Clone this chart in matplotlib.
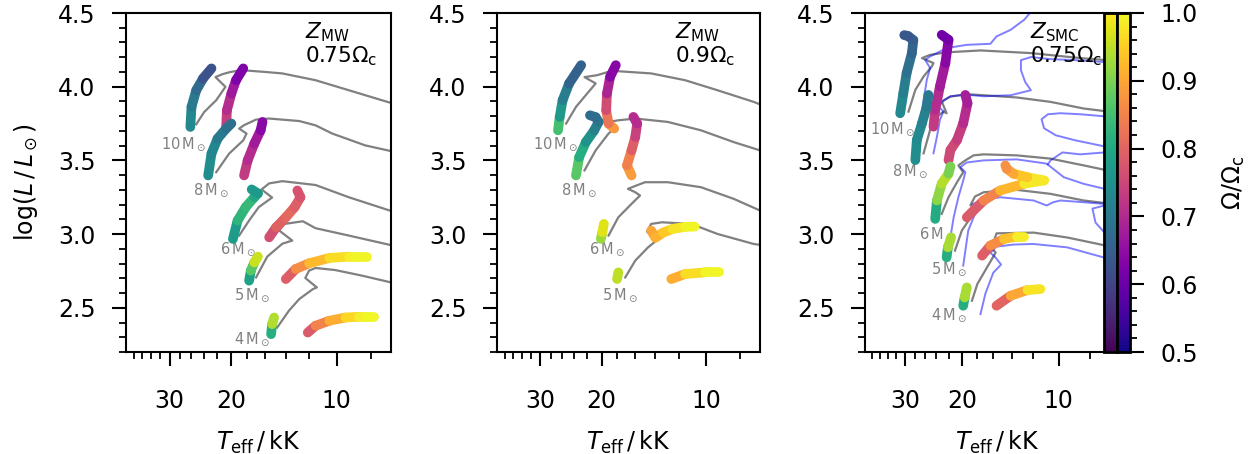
import numpy as np
import matplotlib
matplotlib.use("Agg")
import matplotlib as mpl
import matplotlib.pyplot as plt
from matplotlib.collections import LineCollection
from matplotlib.ticker import FixedLocator, MultipleLocator, NullFormatter, FuncFormatter

# ---- data: each coloured track = [Teff (kK), log L, Omega/Omega_c] ----
# panel 1: Z_MW, 0.75 Omega_c
p1_m10_pole = [[26.2, 26.0, 25.2, 24.1, 22.8], [3.727, 3.863, 3.976, 4.056, 4.124], [0.75, 0.72, 0.69, 0.65, 0.60]]
p1_m10_eq = [[20.7, 20.6, 20.0, 19.4, 18.5], [3.722, 3.840, 3.954, 4.044, 4.124], [0.75, 0.72, 0.69, 0.65, 0.60]]
p1_m10_grey = [[25.2, 23.9, 22.1, 20.8, 22.2, 21.2, 20.2, 19.0, 18.2, 16.0, 14.3, 11.5, 9.24, 7.43, 7.0],
               [3.745, 3.829, 3.908, 3.999, 4.065, 4.085, 4.099, 4.11, 4.11, 4.10, 4.09, 4.044, 3.976, 3.908, 3.89]]
p1_m8_pole = [[23.3, 22.8, 21.9, 20.7, 20.0], [3.398, 3.546, 3.648, 3.716, 3.75], [0.75, 0.74, 0.72, 0.69, 0.67]]
p1_m8_eq = [[18.4, 17.97, 17.2, 16.5, 16.3], [3.398, 3.5, 3.614, 3.704, 3.761], [0.74, 0.72, 0.69, 0.66, 0.62]]
p1_m8_grey = [[22.1, 20.3, 18.5, 18.1, 19.0, 18.4, 17.0, 15.6, 12.8, 11.5, 10.3, 8.3, 7.0],
              [3.420, 3.546, 3.636, 3.682, 3.716, 3.739, 3.777, 3.784, 3.767, 3.738, 3.682, 3.602, 3.563]]
p1_m6_pole = [[19.8, 19.2, 18.2, 17.2, 16.8, 17.5], [2.967, 3.092, 3.183, 3.250, 3.276, 3.303], [0.75, 0.80, 0.85, 0.82, 0.78, 0.76]]
p1_m6_eq = [[15.6, 14.9, 13.98, 13.2, 12.7, 12.96], [2.978, 3.046, 3.114, 3.182, 3.25, 3.296], [0.75, 0.78, 0.81, 0.80, 0.78, 0.76]]
p1_m6_grey = [[19.0, 17.8, 16.7, 15.3, 16.4, 15.6, 14.3, 11.5, 9.24, 7.0],
              [2.990, 3.092, 3.183, 3.248, 3.303, 3.344, 3.359, 3.333, 3.25, 3.157]]
p1_m5_pole = [[17.8, 17.6, 17.2, 16.8], [2.684, 2.752, 2.808, 2.847], [0.75, 0.82, 0.92, 1.0]]
p1_m5_eq = [[13.98, 13.1, 12.0, 10.5, 9.24, 8.85, 8.2], [2.695, 2.763, 2.802, 2.838, 2.847, 2.847, 2.847],
            [0.75, 0.83, 0.9, 0.95, 0.98, 0.99, 1.0]]
p1_m5_grey = [[17.0, 15.8, 14.3, 13.4, 14.6, 14.1, 12.5, 11.5, 9.24, 7.0],
              [2.706, 2.847, 2.935, 2.956, 3.024, 3.069, 3.087, 3.04, 2.99, 2.925]]
p1_m4_pole = [[15.4, 15.3, 15.1], [2.321, 2.389, 2.434], [0.75, 0.88, 1.0]]
p1_m4_eq = [[12.1, 11.5, 10.5, 9.44, 8.65, 8.2, 7.85], [2.332, 2.378, 2.412, 2.434, 2.439, 2.439, 2.439],
            [0.75, 0.82, 0.88, 0.94, 0.98, 0.995, 1.0]]
p1_m4_grey = [[14.8, 13.7, 12.8, 11.7, 11.4, 12.3, 12.0, 11.5, 10.1, 8.47, 7.0],
              [2.366, 2.480, 2.559, 2.627, 2.638, 2.702, 2.752, 2.770, 2.756, 2.718, 2.672]]

# panel 2: Z_MW, 0.9 Omega_c
p2_m10_pole = [[26.7, 26.4, 25.9, 24.8, 22.9], [3.704, 3.795, 3.908, 4.022, 4.146], [0.90, 0.80, 0.74, 0.68, 0.63]]
p2_m10_eq = [[18.4, 19.1, 19.4, 19.3, 18.9, 18.2], [3.716, 3.750, 3.840, 3.954, 4.067, 4.146], [0.90, 0.86, 0.80, 0.72, 0.66, 0.61]]
p2_m10_grey = [[25.3, 23.7, 22.0, 20.8, 22.4, 20.6, 19.1, 17.9, 14.4, 11.5, 9.28, 7.3, 7.0],
               [3.750, 3.863, 3.954, 4.022, 4.065, 4.078, 4.101, 4.105, 4.090, 4.044, 3.976, 3.897, 3.88]]
p2_m8_pole = [[23.7, 23.2, 22.2, 21.0, 20.4, 20.8, 21.6], [3.398, 3.522, 3.624, 3.704, 3.761, 3.793, 3.806],
              [0.90, 0.84, 0.78, 0.73, 0.70, 0.68, 0.67]]
p2_m8_eq = [[16.4, 16.9, 16.4, 16.0, 15.8, 16.2], [3.398, 3.466, 3.568, 3.659, 3.750, 3.795], [0.90, 0.87, 0.82, 0.76, 0.72, 0.69]]
p2_m8_grey = [[22.4, 20.8, 19.1, 18.2, 19.3, 17.9, 16.0, 12.9, 10.35, 8.33, 7.0],
              [3.432, 3.568, 3.682, 3.727, 3.759, 3.772, 3.784, 3.761, 3.704, 3.624, 3.568]]
p2_m6_pole = [[20.1, 19.9, 19.7], [2.967, 3.012, 3.069], [0.9, 0.95, 1.0]]
p2_m6_eq = [[14.4, 14.0, 13.3, 12.5, 11.5, 10.8], [3.024, 2.976, 3.010, 3.035, 3.049, 3.051], [0.9, 0.9, 0.93, 0.96, 0.99, 1.0]]
p2_m6_grey = [[19.1, 17.9, 16.4, 15.5, 16.0, 16.8, 15.0, 12.9, 10.35, 8.33, 7.0],
              [2.990, 3.114, 3.205, 3.262, 3.284, 3.307, 3.352, 3.352, 3.318, 3.239, 3.160]]
p2_m5_pole = [[18.05, 17.9], [2.695, 2.740], [0.9, 1.0]]
p2_m5_eq = [[12.6, 11.5, 10.1, 9.16], [2.695, 2.729, 2.740, 2.740], [0.88, 0.94, 0.99, 1.0]]
p2_m5_grey = [[17.1, 16.0, 14.7, 13.9, 14.8, 14.4, 13.4, 11.05, 9.28, 7.3, 7.0],
              [2.706, 2.820, 2.910, 2.956, 3.017, 3.069, 3.080, 3.069, 3.001, 2.933, 2.927]]

# panel 3: Z_SMC, 0.75 Omega_c
p3_m10_pole = [[31.1, 30.4, 29.7, 28.6, 28.3, 29.4, 30.2], [3.820, 3.956, 4.092, 4.228, 4.316, 4.344, 4.35],
               [0.75, 0.72, 0.70, 0.67, 0.65, 0.64, 0.63]]
p3_m10_eq = [[24.5, 24.2, 23.4, 22.5, 22.0, 23.1], [3.729, 3.842, 4.001, 4.160, 4.318, 4.352], [0.74, 0.72, 0.69, 0.66, 0.62, 0.60]]
p3_m10_grey = [[29.3, 27.9, 26.3, 24.8, 24.5, 26.6, 25.1, 22.3, 17.5, 12.2, 8.56, 7.26, 6.0],
               [3.831, 3.978, 4.069, 4.137, 4.16, 4.194, 4.216, 4.233, 4.246, 4.228, 4.194, 4.182, 4.17]]
p3_m8_pole = [[27.9, 27.6, 26.6, 25.7, 25.4], [3.502, 3.638, 3.752, 3.865, 3.944], [0.75, 0.74, 0.73, 0.71, 0.70]]
p3_m8_eq = [[22.0, 21.7, 20.7, 19.8, 19.2, 19.5], [3.502, 3.570, 3.638, 3.752, 3.888, 3.944], [0.75, 0.76, 0.75, 0.72, 0.69, 0.67]]
p3_m8_grey = [[26.3, 25.1, 23.9, 22.8, 22.3, 23.1, 21.7, 19.3, 17.1, 13.5, 10.6, 8.36, 6.0],
              [3.548, 3.706, 3.797, 3.831, 3.82, 3.90, 3.933, 3.949, 3.942, 3.927, 3.897, 3.852, 3.813]]
p3_m6_pole = [[24.2, 23.9, 23.1, 22.0, 21.7], [3.103, 3.228, 3.342, 3.410, 3.459], [0.75, 0.86, 0.97, 0.92, 0.88]]
p3_m6_eq = [[19.3, 17.1, 15.2, 12.8, 11.1, 12.5, 13.8, 14.5, 14.65],
            [3.114, 3.228, 3.296, 3.342, 3.364, 3.386, 3.409, 3.443, 3.466],
            [0.75, 0.82, 0.88, 0.96, 1.0, 0.96, 0.92, 0.88, 0.86]]
p3_m6_grey = [[23.1, 22.0, 20.7, 19.8, 20.5, 19.5, 18.4, 17.1, 13.5, 10.6, 8.36, 6.0],
              [3.137, 3.25, 3.352, 3.42, 3.466, 3.5, 3.534, 3.541, 3.534, 3.512, 3.466, 3.40]]
p3_m5_pole = [[22.3, 22.1, 21.6], [2.842, 2.910, 2.978], [0.75, 0.87, 1.0]]
p3_m5_eq = [[17.3, 16.3, 14.8, 13.5, 12.8], [2.854, 2.922, 2.967, 2.983, 2.983], [0.75, 0.83, 0.9, 0.97, 1.0]]
p3_m5_grey = [[21.0, 20.0, 18.6, 17.8, 18.8, 18.2, 17.1, 13.5, 10.6, 8.36, 6.0],
              [2.888, 3.024, 3.126, 3.162, 3.196, 3.255, 3.284, 3.30, 3.273, 3.228, 3.19]]
p3_m4_pole = [[19.8, 19.6, 19.3], [2.514, 2.570, 2.638], [0.75, 0.87, 1.0]]
p3_m4_eq = [[15.6, 14.1, 12.5, 11.4], [2.514, 2.582, 2.620, 2.627], [0.75, 0.85, 0.95, 1.0]]
p3_m4_grey = [[18.6, 17.9, 16.7, 15.7, 16.3, 15.8, 15.6, 11.96, 9.41, 7.24, 6.0],
              [2.548, 2.661, 2.774, 2.874, 2.915, 2.969, 3.005, 3.01, 2.977, 2.925, 2.907]]

# panel 3 comparison tracks (blue)
p3_blue_m10 = [[27.0, 26.3, 25.7, 25.1, 26.0, 25.1, 22.3, 19.3, 16.3, 15.6, 14.1, 12.8, 12.2, 11.8],
               [3.752, 3.910, 4.046, 4.126, 4.182, 4.205, 4.262, 4.284, 4.291, 4.341, 4.386, 4.454, 4.507, 4.554]]
p3_blue_m8 = [[24.5, 23.9, 23.4, 22.8, 23.7, 22.7, 21.7, 19.4, 17.1, 14.1, 12.2, 12.7, 13.1, 13.1, 12.2, 10.6, 8.87, 7.2],
              [3.548, 3.661, 3.774, 3.833, 3.867, 3.908, 3.935, 3.946, 3.935, 3.942, 3.976, 4.031, 4.112, 4.180, 4.201,
               4.187, 4.180, 4.167]]
p3_blue_m6 = [[21.7, 21.2, 20.5, 19.8, 19.5, 20.2, 19.3, 17.1, 13.5, 10.9, 9.64, 8.36, 7.2],
              [2.978, 3.114, 3.25, 3.364, 3.420, 3.454, 3.486, 3.5, 3.507, 3.478, 3.386, 3.341, 3.307]]
p3_blue_m5 = [[19.8, 19.5, 19.1, 18.2, 17.8, 18.6, 17.5, 15.2, 11.96, 10.9, 10.4, 9.88, 8.36, 7.2],
              [2.786, 2.888, 3.024, 3.137, 3.173, 3.201, 3.228, 3.25, 3.228, 3.194, 3.216, 3.228, 3.216, 3.205]]
p3_blue_m4 = [[17.5, 16.9, 15.97, 15.1, 15.7, 16.3, 15.6, 13.8, 12.0, 9.41, 7.2],
              [2.457, 2.595, 2.738, 2.793, 2.840, 2.874, 2.915, 2.929, 2.933, 2.910, 2.840]]
p3_blue_loop1 = [[7.2, 8.56, 9.88, 10.8, 11.3, 11.1, 10.2, 8.87, 7.2],
                 [3.799, 3.813, 3.820, 3.813, 3.779, 3.718, 3.670, 3.636, 3.595]]
p3_blue_loop2 = [[7.2, 8.56, 9.73, 10.6, 10.8], [3.554, 3.541, 3.554, 3.5, 3.473]]
p3_blue_loop3 = [[7.2, 7.85, 7.68, 7.2], [3.194, 3.173, 3.078, 3.010]]

masses = ['10', '8', '6', '5', '4']
# label anchors (right edge of text) per panel
p1_label_T = [23.6, 20.3, 17.0, 15.5, 15.5]
p1_label_L = [3.61, 3.30, 2.90, 2.59, 2.29]
p2_label_T = [23.3, 20.6, 17.1, 15.7]
p2_label_L = [3.61, 3.30, 2.90, 2.59]
p3_label_T = [27.9, 25.4, 21.0, 19.3, 19.3]
p3_label_L = [3.71, 3.43, 3.00, 2.76, 2.45]

panel_titles = [r'$Z_\mathrm{MW}$' + '\n' + r'$0.75\Omega_\mathrm{c}$',
                r'$Z_\mathrm{MW}$' + '\n' + r'$0.9\Omega_\mathrm{c}$',
                r'$Z_\mathrm{SMC}$' + '\n' + r'$0.75\Omega_\mathrm{c}$']
x_limits = [(40, 7), (40, 7), (40, 6)]

norm = mpl.colors.Normalize(0.5, 1.0)


def coloured_track(ax, track, cmap):
    T, L, W = (np.asarray(a, dtype=float) for a in track)
    pts = np.column_stack([T, L])
    segs = np.stack([pts[:-1], pts[1:]], axis=1)
    lc = LineCollection(segs, cmap=cmap, norm=norm, linewidths=7,
                        capstyle='round', joinstyle='round', zorder=4)
    lc.set_array(0.5 * (W[:-1] + W[1:]))
    ax.add_collection(lc)


def style_axes(ax, xlim):
    ax.set_xscale('log')
    ax.set_xlim(*xlim)
    ax.set_ylim(2.2, 4.5)
    ax.xaxis.set_major_locator(FixedLocator([10, 20, 30]))
    ax.xaxis.set_major_formatter(FuncFormatter(lambda v, p: '%g' % v))
    ax.xaxis.set_minor_locator(FixedLocator([8, 12, 14, 16, 18, 22, 24, 26, 28, 32, 34, 36, 38]))
    ax.xaxis.set_minor_formatter(NullFormatter())
    ax.yaxis.set_major_locator(MultipleLocator(0.5))
    ax.yaxis.set_minor_locator(MultipleLocator(0.1))
    ax.tick_params(which='major', direction='out', length=10, width=1.5, labelsize=17, pad=12)
    ax.tick_params(axis='x', which='major', pad=17)
    ax.tick_params(which='minor', direction='out', length=5, width=1.3)
    for s in ax.spines.values():
        s.set_linewidth(1.5)
    ax.set_xlabel(r'$T_\mathrm{eff}\,/\,\mathrm{kK}$', fontsize=17, labelpad=11)


fig = plt.figure(figsize=(12.54, 4.54), dpi=100)
ax1 = fig.add_axes([126 / 1254, 102 / 454, 265 / 1254, 339 / 454])
ax2 = fig.add_axes([497 / 1254, 102 / 454, 263 / 1254, 339 / 454])
ax3 = fig.add_axes([865 / 1254, 102 / 454, 265 / 1254, 339 / 454])
axes = [ax1, ax2, ax3]

panels = [
    [(p1_m10_pole, p1_m10_eq, p1_m10_grey), (p1_m8_pole, p1_m8_eq, p1_m8_grey), (p1_m6_pole, p1_m6_eq, p1_m6_grey),
     (p1_m5_pole, p1_m5_eq, p1_m5_grey), (p1_m4_pole, p1_m4_eq, p1_m4_grey)],
    [(p2_m10_pole, p2_m10_eq, p2_m10_grey), (p2_m8_pole, p2_m8_eq, p2_m8_grey), (p2_m6_pole, p2_m6_eq, p2_m6_grey),
     (p2_m5_pole, p2_m5_eq, p2_m5_grey)],
    [(p3_m10_pole, p3_m10_eq, p3_m10_grey), (p3_m8_pole, p3_m8_eq, p3_m8_grey), (p3_m6_pole, p3_m6_eq, p3_m6_grey),
     (p3_m5_pole, p3_m5_eq, p3_m5_grey), (p3_m4_pole, p3_m4_eq, p3_m4_grey)],
]
labels = [(p1_label_T, p1_label_L), (p2_label_T, p2_label_L), (p3_label_T, p3_label_L)]

for ax, tracks, (lT, lL), title, xlim in zip(axes, panels, labels, panel_titles, x_limits):
    style_axes(ax, xlim)
    for pole, eq, grey in tracks:
        ax.plot(grey[0], grey[1], color='0.5', lw=1.6, zorder=2)
        coloured_track(ax, pole, 'viridis')
        coloured_track(ax, eq, 'plasma')
    for m, t, l in zip(masses, lT, lL):
        ax.text(t, l, m + r'$\,\mathrm{M}_\odot$', ha='right', va='center', color='grey', fontsize=10.5)
    ax.text(12.3, 4.45, title, ha='left', va='top', fontsize=15.5, linespacing=1.0, zorder=6)

for b in [p3_blue_m10, p3_blue_m8, p3_blue_m6, p3_blue_m5, p3_blue_m4, p3_blue_loop1, p3_blue_loop2, p3_blue_loop3]:
    ax3.plot(b[0], b[1], color='blue', alpha=0.5, lw=1.4, zorder=3)

ax1.set_ylabel(r'$\log(L\,/\,L_\odot)$', fontsize=17, labelpad=13)

# two colour bars inside the right panel
cax1 = ax3.inset_axes([0.9, 0.0, 0.05, 1.0])
cax2 = ax3.inset_axes([0.95, 0.0, 0.05, 1.0])
cb1 = fig.colorbar(mpl.cm.ScalarMappable(norm=norm, cmap='viridis'), cax=cax1)
cb1.set_ticks([])
cb1.outline.set_linewidth(2)
cb2 = fig.colorbar(mpl.cm.ScalarMappable(norm=norm, cmap='plasma'), cax=cax2)
cb2.set_ticks([0.5, 0.6, 0.7, 0.8, 0.9, 1.0])
cb2.ax.yaxis.set_minor_locator(MultipleLocator(0.02))
cb2.outline.set_linewidth(2)
cb2.ax.tick_params(which='major', length=10, width=1.5, labelsize=17, pad=12)
cb2.ax.tick_params(which='minor', length=5, width=1.3)
cb2.set_label(r'$\Omega/\Omega_\mathrm{c}$', fontsize=17, labelpad=16)

fig.savefig('out.png', dpi=100)
